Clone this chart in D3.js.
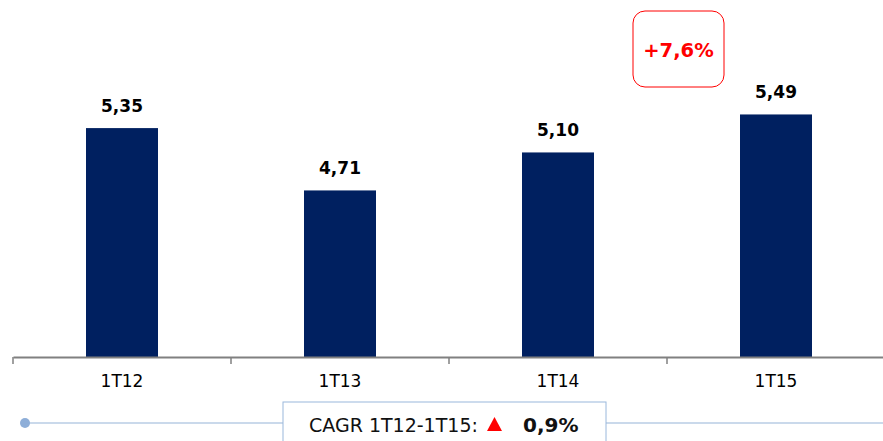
<!DOCTYPE html>
<html>
<head>
<meta charset="utf-8">
<script src="https://cdn.jsdelivr.net/npm/d3@7"></script>
<style>
  body { margin: 0; background: #fff; }
  svg { display: block; font-family: "DejaVu Sans", Verdana, sans-serif; }
</style>
</head>
<body>
<div id="root"></div>
<script>
const categories = ["1T12", "1T13", "1T14", "1T15"];
const values = [5.35, 4.71, 5.10, 5.49];
const growthLabel = "+7,6%";
const cagrText = "CAGR 1T12-1T15:";
const cagrValue = "0,9%";

const width = 883, height = 441;
const svg = d3.select("#root").append("svg").attr("width", width).attr("height", height);

const x = d3.scaleBand().domain(categories).range([13, 885]).paddingInner(0).paddingOuter(0);
const y = d3.scaleLinear().domain([3, 6.665]).range([357, 0]);
const barW = 72;
const fmt = v => d3.format(".2f")(v).replace(".", ",");

// bars
svg.selectAll(".bar").data(values).enter().append("rect")
  .attr("class", "bar")
  .attr("x", (d, i) => x(categories[i]) + x.bandwidth() / 2 - barW / 2)
  .attr("y", d => y(d))
  .attr("width", barW)
  .attr("height", d => y.range()[0] - y(d))
  .attr("fill", "#002060");

// value labels
svg.selectAll(".val").data(values).enter().append("text")
  .attr("x", (d, i) => x(categories[i]) + x.bandwidth() / 2)
  .attr("y", d => y(d) - 16)
  .attr("text-anchor", "middle")
  .attr("font-size", 17).attr("font-weight", "bold").attr("fill", "#000")
  .text(d => fmt(d));

// axis
const axis = svg.append("g").attr("transform", "translate(0,357)")
  .call(d3.axisBottom(x).tickSize(0).tickPadding(18));
axis.select(".domain").attr("stroke", "#808080").attr("stroke-width", 2);
axis.selectAll("text").attr("font-size", 17).attr("fill", "#000")
  .attr("font-family", "DejaVu Sans, Verdana, sans-serif");
const edges = categories.map(c => x(c)).concat([x.range()[1]]);
axis.selectAll(".edge").data(edges).enter().append("line")
  .attr("x1", d => d).attr("x2", d => d)
  .attr("y1", 0).attr("y2", 7)
  .attr("stroke", "#808080").attr("stroke-width", 1.5);

// growth box over last bar
const lastX = x(categories[2]) + x.bandwidth();
svg.append("rect")
  .attr("x", lastX - 34).attr("y", 11).attr("width", 91).attr("height", 76)
  .attr("rx", 12).attr("fill", "#fff").attr("stroke", "#ff0000").attr("stroke-width", 1);
svg.append("text")
  .attr("x", lastX + 11.5).attr("y", 57)
  .attr("text-anchor", "middle").attr("font-size", 19.5).attr("font-weight", "bold")
  .attr("fill", "#ff0000").text(growthLabel);

// CAGR strip
svg.append("line").attr("x1", 25).attr("x2", width).attr("y1", 423).attr("y2", 423)
  .attr("stroke", "#b8cce4").attr("stroke-width", 1.5);
svg.append("circle").attr("cx", 25).attr("cy", 423).attr("r", 5).attr("fill", "#8eaed8");
svg.append("rect").attr("x", 283).attr("y", 402).attr("width", 323).attr("height", 50)
  .attr("fill", "#fff").attr("stroke", "#9ab8dc").attr("stroke-width", 1);
svg.append("text").attr("x", 309).attr("y", 432).attr("font-size", 19).attr("fill", "#111")
  .text(cagrText);
svg.append("path").attr("d", "M487,431 L502,431 L494.5,417 Z").attr("fill", "#ff0000");
svg.append("text").attr("x", 523).attr("y", 432).attr("font-size", 20).attr("font-weight", "bold")
  .attr("fill", "#111").text(cagrValue);
</script>
</body>
</html>
